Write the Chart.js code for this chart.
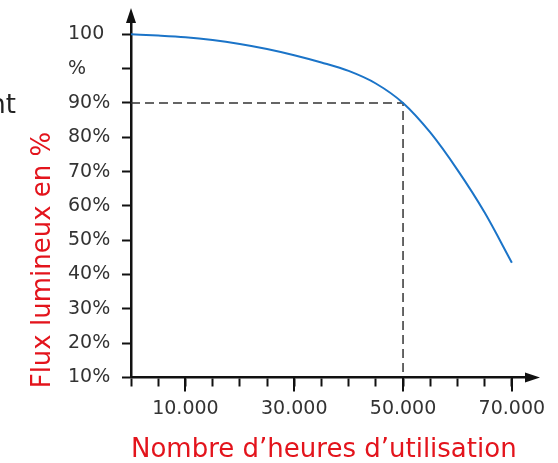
<!DOCTYPE html>
<html lang="fr">
<head>
<meta charset="utf-8">
<script src="https://cdn.jsdelivr.net/npm/chart.js@4.4.1/dist/chart.umd.min.js"></script>
<style>
  html, body { margin: 0; padding: 0; background: #fff; }
  #wrap { width: 558px; height: 463px; position: relative; }
</style>
</head>
<body>
<div id="wrap"><canvas id="flux-chart"></canvas></div>
<script>
// Données
const heures = [0, 5000, 10000, 15000, 20000, 25000, 30000, 35000, 40000, 45000, 50000, 55000, 60000, 65000, 70000];
const flux = [100, 99.83, 99.59, 99.18, 98.6, 97.87, 96.96, 95.9, 94.67, 92.84, 90, 81.4, 70.5, 58.06, 43.47];

// Ligne de repère (50.000 h -> 90 %)
const repereX = [0, 50000, 50000];
const repereY = [90, 90, 10];

// Graduations
const xTicks = [0, 5000, 10000, 15000, 20000, 25000, 30000, 35000, 40000, 45000, 50000, 55000, 60000, 65000, 70000];
const xTickLabels = ['', '', '10.000', '', '', '', '30.000', '', '', '', '50.000', '', '', '', '70.000'];
const yTicks = [10, 20, 30, 40, 50, 60, 70, 80, 90, 95, 100];
const yTickLabels = ['10%', '20%', '30%', '40%', '50%', '60%', '70%', '80%', '90%', '%', '100'];

const ROUGE = '#e3141c';
const NOIR = '#111';

// Au-dessus de 90 %, l'axe prend deux fois plus de place (comme sur l'original)
const versAxe = v => (v <= 90 ? v : 90 + (v - 90) * 2);
const depuisAxe = u => (u <= 90 ? u : 90 + (u - 90) / 2);

class BrokenScale extends Chart.LinearScale {
    configure() {
        super.configure();
        this._startValue = versAxe(this.min);
        this._endValue = versAxe(this.max);
        this._valueRange = this._endValue - this._startValue;
    }
    getPixelForValue(v) {
        return v === null ? NaN : super.getPixelForValue(versAxe(v));
    }
    getValueForPixel(p) {
        return depuisAxe(super.getValueForPixel(p));
    }
}
BrokenScale.id = 'broken';
BrokenScale.defaults = Chart.LinearScale.defaults;
Chart.register(BrokenScale);

Chart.defaults.font.family = "'DejaVu Sans', sans-serif";

// Flèches, graduations longues et textes hors axes
const decorPlugin = {
    id: 'decor',
    afterDraw: (chart) => {
        const { ctx: c, chartArea: a, scales: { x } } = chart;
        c.save();
        c.fillStyle = NOIR;
        // flèche verticale
        c.beginPath();
        c.moveTo(a.left, a.top - 14);
        c.lineTo(a.left - 5, a.top + 1);
        c.lineTo(a.left + 5, a.top + 1);
        c.closePath();
        c.fill();
        // flèche horizontale
        c.beginPath();
        c.moveTo(a.right + 14, a.bottom);
        c.lineTo(a.right - 1, a.bottom - 5);
        c.lineTo(a.right - 1, a.bottom + 5);
        c.closePath();
        c.fill();

        // graduations longues sous les valeurs étiquetées
        c.strokeStyle = NOIR;
        c.lineWidth = 2;
        xTicks.forEach((v, i) => {
            if (!xTickLabels[i]) return;
            const px = Math.round(x.getPixelForValue(v));
            c.beginPath();
            c.moveTo(px, a.bottom);
            c.lineTo(px, a.bottom + 14);
            c.stroke();
        });

        // titre vertical
        c.fillStyle = ROUGE;
        c.font = "26px 'DejaVu Sans', sans-serif";
        c.textAlign = 'center';
        c.textBaseline = 'alphabetic';
        c.translate(50, 260);
        c.rotate(-Math.PI / 2);
        c.fillText('Flux lumineux en %', 0, 0);
        c.restore();

        // reste d'un mot coupé à gauche
        c.save();
        c.fillStyle = '#222';
        c.font = "26px 'DejaVu Sans', sans-serif";
        c.textAlign = 'right';
        c.fillText('nt', 16, 113);
        c.restore();
    },
};

const ctx = document.getElementById('flux-chart').getContext('2d');
new Chart(ctx, {
    type: 'line',
    data: {
        datasets: [
            {
                label: 'Flux lumineux',
                data: heures.map((h, i) => ({ x: h, y: flux[i] })),
                borderColor: '#1b74c8',
                borderWidth: 2,
                pointRadius: 0,
                cubicInterpolationMode: 'monotone',
                fill: false,
            },
            {
                label: 'Repère',
                data: repereX.map((h, i) => ({ x: h, y: repereY[i] })),
                borderColor: '#333',
                borderWidth: 1.5,
                borderDash: [9, 5],
                pointRadius: 0,
                tension: 0,
                fill: false,
            },
        ],
    },
    options: {
        responsive: true,
        maintainAspectRatio: false,
        animation: false,
        layout: { padding: { left: 68, top: 22, right: 32, bottom: 0 } },
        plugins: {
            legend: { display: false },
            tooltip: { enabled: false },
        },
        scales: {
            x: {
                type: 'linear',
                min: 0,
                max: 72600,
                afterBuildTicks: (s) => { s.ticks = xTicks.map(v => ({ value: v })); },
                afterFit: (s) => { s.height = 85.5; },
                border: { color: NOIR, width: 2.5 },
                grid: { drawOnChartArea: false, tickLength: 9, tickColor: NOIR, tickWidth: 2 },
                ticks: {
                    autoSkip: false,
                    maxRotation: 0,
                    padding: 11,
                    color: '#333',
                    font: { size: 19 },
                    callback: (v, i) => xTickLabels[i],
                },
                title: {
                    display: true,
                    text: 'Nombre d’heures d’utilisation',
                    align: 'start',
                    color: ROUGE,
                    font: { size: 26, lineHeight: 1 },
                    padding: { top: 0, bottom: 0 },
                },
            },
            y: {
                type: 'broken',
                min: 10,
                max: 101.8,
                afterBuildTicks: (s) => { s.ticks = yTicks.map(v => ({ value: v })); },
                afterFit: (s) => { s.width = 63; },
                border: { color: NOIR, width: 2.5 },
                grid: { drawOnChartArea: false, tickLength: 9, tickColor: NOIR, tickWidth: 2 },
                ticks: {
                    autoSkip: false,
                    crossAlign: 'far',
                    color: '#333',
                    font: { size: 19 },
                    callback: (v, i) => yTickLabels[i],
                },
            },
        },
    },
    plugins: [decorPlugin],
});
</script>
</body>
</html>
